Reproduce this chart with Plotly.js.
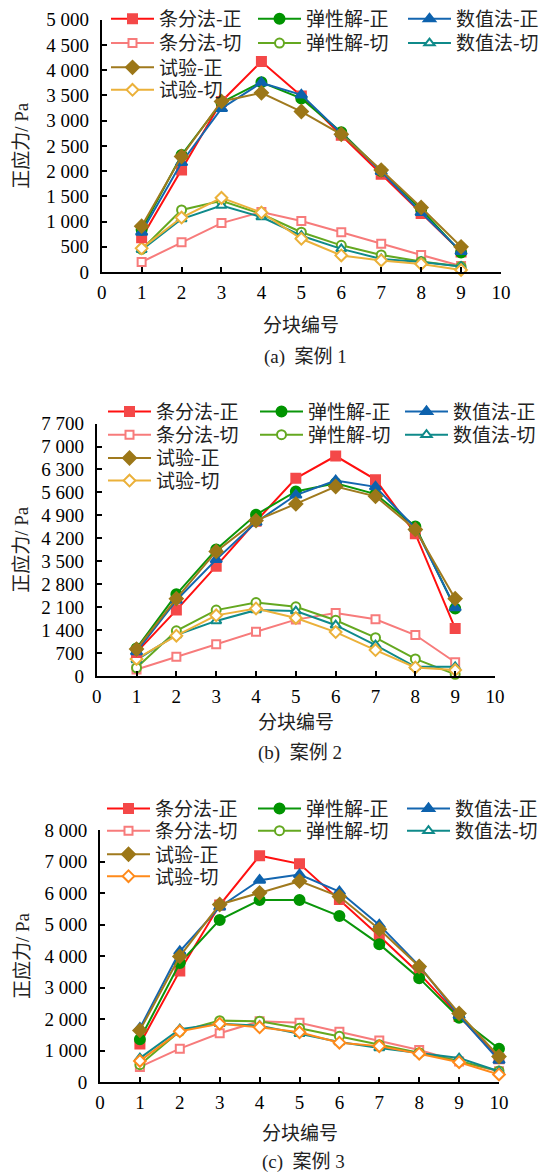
<!DOCTYPE html>
<html><head><meta charset="utf-8">
<script src="https://cdn.plot.ly/plotly-3.0.1.min.js"></script>
<style>html,body{margin:0;padding:0;background:#fff}#chart{width:556px;height:1174px}</style>
</head><body><div id="chart"></div>
<script>
// ---------- data ----------
const blocks9 = [1, 2, 3, 4, 5, 6, 7, 8, 9];
const blocks10 = [1, 2, 3, 4, 5, 6, 7, 8, 9, 10];
const seriesNames = ['条分法-正', '条分法-切', '弹性解-正', '弹性解-切', '数值法-正', '数值法-切', '试验-正', '试验-切'];
const xTitle = '分块编号';
const yTitle = '正应力/ Pa';
const captions = ['(a)  案例 1', '(b)  案例 2', '(c)  案例 3'];

// case 1
const tiaoN1 = [680, 2020, 3380, 4170, 3490, 2710, 1940, 1160, 400];
const tiaoT1 = [200, 590, 970, 1190, 1010, 790, 560, 340, 120];
const tanN1 = [840, 2320, 3360, 3760, 3440, 2770, 2000, 1240, 390];
const tanT1 = [450, 1230, 1410, 1150, 790, 530, 340, 210, 110];
const shuN1 = [790, 2170, 3240, 3750, 3510, 2740, 1990, 1180, 410];
const shuT1 = [440, 1050, 1320, 1090, 720, 460, 260, 200, 110];
const shiN1 = [910, 2290, 3380, 3550, 3180, 2730, 2020, 1280, 500];
const shiT1 = [470, 1080, 1470, 1180, 660, 330, 230, 160, 40];
// case 2
const tiaoN2 = [720, 2010, 3350, 4720, 6030, 6710, 5990, 4340, 1450];
const tiaoT2 = [200, 590, 970, 1350, 1720, 1920, 1730, 1250, 420];
const tanN2 = [840, 2490, 3860, 4920, 5630, 5880, 5550, 4560, 2060];
const tanT2 = [250, 1380, 2010, 2240, 2110, 1700, 1170, 520, 50];
const shuN2 = [740, 2310, 3550, 4690, 5520, 5960, 5770, 4510, 2080];
const shuT2 = [490, 1250, 1680, 2010, 1980, 1550, 940, 280, 280];
const shiN2 = [820, 2360, 3800, 4740, 5250, 5780, 5480, 4470, 2360];
const shiT2 = [520, 1230, 1850, 2060, 1770, 1340, 790, 260, 180];
// case 3
const tiaoN3 = [1210, 3530, 5620, 7190, 6930, 5800, 4640, 3450, 2080, 740];
const tiaoT3 = [480, 1060, 1550, 1930, 1880, 1600, 1320, 1020, 650, 340];
const tanN3 = [1360, 3780, 5150, 5780, 5780, 5270, 4380, 3300, 2040, 1060];
const tanT3 = [550, 1610, 1950, 1930, 1710, 1450, 1180, 930, 670, 350];
const shuN3 = [1710, 4150, 5560, 6410, 6590, 6050, 4990, 3690, 2110, 690];
const shuT3 = [760, 1680, 1850, 1790, 1530, 1270, 1080, 920, 760, 340];
const shiN3 = [1640, 3990, 5640, 6010, 6380, 5890, 4850, 3670, 2180, 810];
const shiT3 = [670, 1610, 1850, 1740, 1580, 1250, 1140, 900, 630, 240];

const yMax = [5000, 7700, 8000];
const yStep = [500, 700, 1000];

// ---------- styling ----------
const W = 556, H = 1174;
const FONT = '"Liberation Serif", "Times New Roman", "Noto Sans CJK SC", serif';
const CJK = '"Noto Sans CJK SC", "Liberation Serif", sans-serif';
const styles = [
  {line: '#ff1010', fill: '#f44848', edge: '#f44848', sym: 'square', size: 9},
  {line: '#f77b7b', fill: '#ffffff', edge: '#f77b7b', sym: 'square', size: 8},
  {line: '#0a960a', fill: '#009400', edge: '#009400', sym: 'circle', size: 10},
  {line: '#64a820', fill: '#ffffff', edge: '#64a820', sym: 'circle', size: 9},
  {line: '#1466b0', fill: '#0d62ad', edge: '#0d62ad', sym: 'triangle-up', size: 10},
  {line: '#0f8a8a', fill: '#ffffff', edge: '#0f8a8a', sym: 'triangle-up', size: 9},
  {line: '#a07a1e', fill: '#9c7718', edge: '#9c7718', sym: 'diamond', size: 10},
  {line: '#ebb13a', fill: '#ffffff', edge: '#ebb13a', sym: 'diamond', size: 9}
];
const lastColor3 = '#ff8a1a';

// plot boxes in px
const boxes = [
  {x0: 101.7, x1: 501, y0: 15.7, y1: 269, titleY: 321, capY: 354,
   colX: [111, 258, 408], rowY: [14.7, 39.3, 63.7, 86.3]},
  {x0: 96.7, x1: 495, y0: 421, y1: 674.3, titleY: 719, capY: 752,
   colX: [108, 260, 405], rowY: [409, 432.3, 455.7, 478.3]},
  {x0: 100, x1: 499, y0: 829, y1: 1081.7, titleY: 1131, capY: 1162,
   colX: [107, 258, 407], rowY: [807.3, 829.7, 853.3, 875.3]}
];
const legendCell = [[0,0],[0,1],[1,0],[1,1],[2,0],[2,1],[0,2],[0,3]];

const caseData = [
  {x: blocks9, ys: [tiaoN1, tiaoT1, tanN1, tanT1, shuN1, shuT1, shiN1, shiT1]},
  {x: blocks9, ys: [tiaoN2, tiaoT2, tanN2, tanT2, shuN2, shuT2, shiN2, shiT2]},
  {x: blocks10, ys: [tiaoN3, tiaoT3, tanN3, tanT3, shuN3, shuT3, shiN3, shiT3]}
];
const drawOrder = [1, 3, 5, 7, 0, 2, 4, 6];

const traces = [];
const layout = {
  width: W, height: H,
  margin: {l: 0, r: 0, t: 0, b: 0},
  paper_bgcolor: '#fff', plot_bgcolor: 'rgba(0,0,0,0)',
  separators: '. ',
  showlegend: true,
  annotations: [],
  font: {family: FONT, size: 19, color: '#000'}
};

caseData.forEach((cd, k) => {
  const b = boxes[k];
  const sx = k === 0 ? '' : String(k + 1);
  drawOrder.forEach(j => {
    const st = styles[j];
    let lc = st.line, ec = st.edge;
    if (k === 2 && j === 7) { lc = lastColor3; ec = lastColor3; }
    const legId = 'legend' + (k * 8 + j === 0 ? '' : String(k * 8 + j + 1));
    traces.push({
      type: 'scatter', mode: 'lines+markers',
      x: cd.x, y: cd.ys[j], name: seriesNames[j],
      xaxis: 'x' + sx, yaxis: 'y' + sx,
      legend: legId,
      cliponaxis: false,
      line: {color: lc, width: 2},
      marker: {symbol: st.sym, size: st.size, color: st.fill, line: {color: ec, width: 2}}
    });
    const c = legendCell[j];
    layout[legId] = {
      x: (b.colX[c[0]] - 5) / W, xanchor: 'left',
      y: 1 - b.rowY[c[1]] / H, yanchor: 'middle',
      bgcolor: 'rgba(0,0,0,0)', borderwidth: 0,
      itemwidth: 43, itemclick: false, itemdoubleclick: false,
      font: {family: CJK, size: 19, color: '#222'}
    };
  });
  const axCommon = {
    showline: true, linecolor: '#000', linewidth: 2, mirror: false,
    ticks: 'inside', ticklen: 5, tickwidth: 2, tickcolor: '#000',
    showgrid: false, zeroline: false, fixedrange: true,
    tickfont: {family: FONT, size: 19, color: '#000'}
  };
  layout['xaxis' + sx] = Object.assign({}, axCommon, {
    domain: [b.x0 / W, b.x1 / W], anchor: 'y' + sx,
    range: [0, 10], tick0: 0, dtick: 1, ticklabelstandoff: 2
  });
  layout['yaxis' + sx] = Object.assign({}, axCommon, {
    domain: [1 - b.y1 / H, 1 - b.y0 / H], anchor: 'x' + sx,
    range: [0, yMax[k]], tick0: 0, dtick: yStep[k], tickformat: ',d',
    ticklabelstandoff: 7
  });
  const cx = (b.x0 + b.x1) / 2;
  layout.annotations.push(
    {xref: 'paper', yref: 'paper', x: cx / W, y: 1 - b.titleY / H, text: xTitle,
     showarrow: false, xanchor: 'center', yanchor: 'middle', font: {family: CJK, size: 19, color: '#222'}},
    {xref: 'paper', yref: 'paper', x: (cx + 4) / W, y: 1 - b.capY / H, text: captions[k],
     showarrow: false, xanchor: 'center', yanchor: 'middle', font: {family: FONT, size: 19, color: '#222'}},
    {xref: 'paper', yref: 'paper', x: 22 / W, y: 1 - (b.y0 + b.y1) / 2 / H, text: yTitle,
     textangle: -90, showarrow: false, xanchor: 'center', yanchor: 'middle', font: {family: FONT, size: 19, color: '#222'}}
  );
});

Plotly.newPlot('chart', traces, layout, {displayModeBar: false, staticPlot: true});
</script>
</body></html>
